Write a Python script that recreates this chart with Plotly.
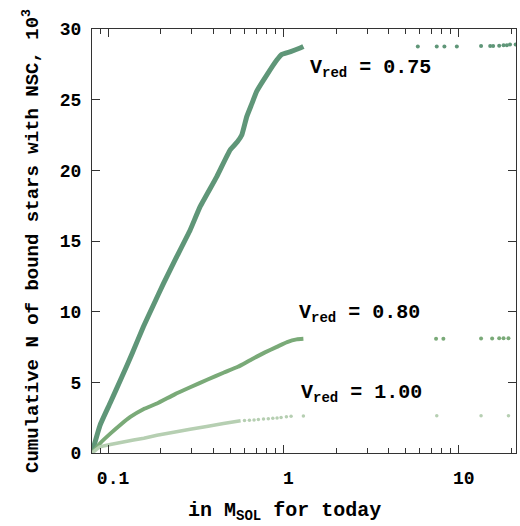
import numpy as np
import plotly.graph_objects as go

# ---- data ----
m075 = [0.081, 0.090, 0.1028, 0.120, 0.1372, 0.159, 0.1807, 0.2072, 0.2444, 0.294, 0.335,
        0.417, 0.497, 0.545, 0.579, 0.618, 0.660, 0.705, 0.80, 0.917, 0.98, 1.10, 1.245, 1.30]
n075 = [0.0, 1.96, 3.54, 5.39, 7.04, 8.93, 10.42, 12.0, 13.8, 15.78, 17.43,
        19.56, 21.45, 22.0, 22.5, 23.8, 24.7, 25.6, 26.7, 27.8, 28.2, 28.4, 28.66, 28.77]
m075_tail = [5.84, 7.49, 8.28, 9.75, 13.4, 15.1, 15.7, 17.0, 18.0, 18.8, 19.6, 21.1]
n075_tail = [28.77, 28.77, 28.77, 28.77, 28.8, 28.8, 28.8, 28.82, 28.85, 28.85, 28.9, 28.9]

m080 = [0.081, 0.0906, 0.103, 0.1178, 0.134, 0.159, 0.190, 0.240, 0.294, 0.370, 0.455,
        0.550, 0.646, 0.78, 0.917, 1.05, 1.19, 1.30]
n080 = [0.0, 0.72, 1.37, 2.0, 2.55, 3.1, 3.5, 4.15, 4.65, 5.2, 5.68,
        6.1, 6.57, 7.1, 7.51, 7.85, 8.04, 8.08]
m080_tail = [7.42, 8.17, 13.4, 15.5, 17.0, 18.0, 19.2]
n080_tail = [8.08, 8.08, 8.1, 8.1, 8.12, 8.12, 8.12]

m100 = [0.081, 0.090, 0.103, 0.122, 0.160, 0.190, 0.294, 0.455, 0.570]
n100 = [0.0, 0.43, 0.6, 0.78, 1.05, 1.25, 1.68, 2.08, 2.28]
m100_tail = [0.60, 0.64, 0.68, 0.72, 0.77, 0.82, 0.87, 0.92, 0.97, 1.04, 1.106, 1.30,
             7.49, 13.4, 19.2]
n100_tail = [2.30, 2.32, 2.34, 2.37, 2.40, 2.43, 2.46, 2.48, 2.52, 2.56, 2.6, 2.62,
             2.64, 2.64, 2.64]

labels = ["V<sub>red</sub> = 0.75", "V<sub>red</sub> = 0.80", "V<sub>red</sub> = 1.00"]
label_x = [1.38, 1.19, 1.23]
label_y = [27.2, 9.9, 4.2]

c075 = "rgb(95,150,120)"
c080 = "rgb(122,170,120)"
c100 = "rgb(182,207,178)"

FONT = "Liberation Mono"

fig = go.Figure()
for mx, ny, mt, nt, col, lw, ms in [
    (m075, n075, m075_tail, n075_tail, c075, 5, 4),
    (m080, n080, m080_tail, n080_tail, c080, 4, 4),
    (m100, n100, m100_tail, n100_tail, c100, 3.5, 3.5),
]:
    fig.add_trace(go.Scatter(x=mx, y=ny, mode="lines",
                             line=dict(color=col, width=lw, shape="spline", smoothing=0.4),
                             showlegend=False))
    fig.add_trace(go.Scatter(x=mt, y=nt, mode="markers",
                             marker=dict(color=col, size=ms), showlegend=False))

for t, x, y in zip(labels, label_x, label_y):
    fig.add_annotation(x=np.log10(x), y=y, text=t, showarrow=False,
                       xanchor="left", yanchor="middle",
                       font=dict(family=FONT, size=20, color="black", weight="bold"))

# x-axis title placed as annotation (offset left like the reference)
fig.add_annotation(x=0.453, xref="paper", y=-0.139, yref="paper",
                   text="in M<sub>SOL</sub> for today", showarrow=False,
                   xanchor="center", yanchor="middle",
                   font=dict(family=FONT, size=20, color="black", weight="bold"))

axis_common = dict(
    showline=True, linecolor="#333", linewidth=1, mirror="ticks",
    ticks="inside", tickcolor="#333", ticklen=8, showgrid=False, zeroline=False,
    tickfont=dict(family=FONT, size=18, color="black", weight="bold"),
)

fig.update_xaxes(type="log", range=[np.log10(0.081), np.log10(21.2)],
                 tickvals=[0.1, 1, 10], ticktext=["0.1", "1", "10"],
                 ticklabelstandoff=8, ticklabelshift=5,
                 minor=dict(ticks="inside", ticklen=5, tickcolor="#333",
                            tickvals=[0.09, 0.2, 0.3, 0.4, 0.5, 0.6, 0.7, 0.8, 0.9,
                                      2, 3, 4, 5, 6, 7, 8, 9, 20], showgrid=False),
                 **axis_common)
fig.update_yaxes(range=[0, 30], tickvals=[0, 5, 10, 15, 20, 25, 30],
                 ticklabelstandoff=6,
                 title=dict(text="Cumulative N of bound stars with NSC, 10<sup>3</sup>", standoff=16,
                            font=dict(family=FONT, size=19, color="black", weight="bold")),
                 **axis_common)

fig.update_layout(width=520, height=526, margin=dict(l=92, r=4, t=29, b=73),
                  plot_bgcolor="white", paper_bgcolor="white",
                  font=dict(family=FONT, color="black"))

fig.write_html("out.html")
